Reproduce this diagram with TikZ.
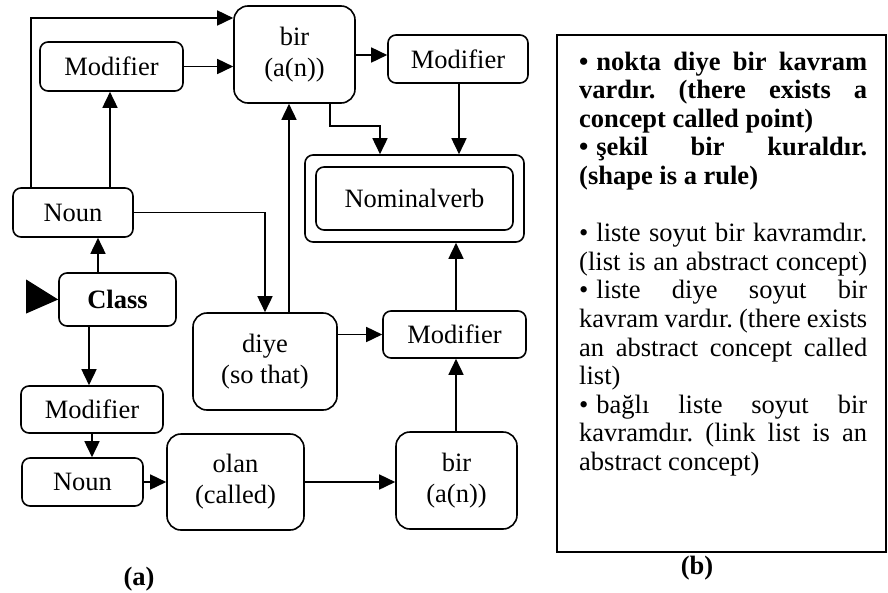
\documentclass[tikz,border=0pt]{standalone}
\usepackage{fontspec}
\setmainfont{Liberation Serif}
\usetikzlibrary{arrows.meta,calc}
\frenchspacing
\newcommand{\dfont}{\fontsize{26.5}{31}\selectfont}
\newcommand{\pfont}{\fontsize{26.5}{28.6}\selectfont}
\newcommand{\bul}{•\hspace{0.3em}}
\tikzset{
  box/.style={draw, line width=1.6pt, rounded corners=8pt, inner sep=0pt, font=\dfont, align=center},
  bigbox/.style={box, rounded corners=14pt},
  arr/.style={line width=1.6pt, -{Triangle[length=16pt,width=15pt]}},
  pline/.style={anchor=base west, inner sep=0pt, font=\pfont},
  lbl/.style={inner sep=0pt, font=\dfont\bfseries}
}
\begin{document}
\begin{tikzpicture}[x=1pt,y=-1pt]
\useasboundingbox (0,0) rectangle (888,592);
% helper coordinates
\coordinate (c31) at (31,0);
\coordinate (c18) at (0,18);
\coordinate (c110) at (110,0);
\coordinate (c55) at (0,55);
\coordinate (c330) at (330,0);
\coordinate (c380) at (380,0);
\coordinate (c459) at (459,0);
\coordinate (c289) at (289,0);
\coordinate (c98) at (98,0);
\coordinate (c89) at (89,0);
\coordinate (c92) at (92,0);
\coordinate (c456) at (456,0);
% nodes
\node[bigbox, minimum width=121, minimum height=97] (bir1) at (294.5,54.5) {bir\\(a(n))};
\node[box, minimum width=143, minimum height=49] (mod1) at (111.5,66.5) {Modifier};
\node[box, minimum width=140, minimum height=48] (mod2) at (458,59) {Modifier};
\node[box, minimum width=219, minimum height=87] (nomo) at (414.5,198.5) {};
\node[box, minimum width=197, minimum height=63] (nomi) at (414.5,198.5) {Nominalverb};
\node[box, minimum width=120, minimum height=49] (noun1) at (73,212.5) {Noun};
\node[box, minimum width=117, minimum height=53] (class) at (117.5,299.5) {\bfseries Class};
\node[bigbox, minimum width=144, minimum height=97] (diye) at (265,361.5) {diye\\(so that)};
\node[box, minimum width=143, minimum height=47] (mod3) at (454.5,334.5) {Modifier};
\node[box, minimum width=142, minimum height=47] (mod4) at (92,409.5) {Modifier};
\node[box, minimum width=121, minimum height=48] (noun2) at (82.5,482) {Noun};
\node[bigbox, minimum width=137, minimum height=96] (olan) at (235.5,482) {olan\\(called)};
\node[bigbox, minimum width=121, minimum height=97] (bir2) at (456.5,480.5) {bir\\(a(n))};
% start marker
\fill ($(class.west)+(-32,-20)$) -- (class.west) -- ($(class.west)+(-32,14)$) -- cycle;
% connectors
\draw[arr] (noun1.north -| c31) |- (bir1.west |- c18);
\draw[arr] (noun1.north -| c110) -- (mod1.south -| c110);
\draw[arr] (mod1.east) -- (bir1.west |- mod1.east);
\draw[arr] (bir1.east |- c55) -- (mod2.west |- c55);
\draw[arr] (bir1.south -| c330) -- ++(0,22) -| (nomo.north -| c380);
\draw[arr] (mod2.south -| c459) -- (nomo.north -| c459);
\draw[arr] (noun1.east) -| (diye.north);
\draw[arr] (diye.north -| c289) -- (bir1.south -| c289);
\draw[arr] (class.north -| c98) -- (noun1.south -| c98);
\draw[arr] (class.south -| c89) -- (mod4.north -| c89);
\draw[arr] (mod4.south -| c92) -- (noun2.north -| c92);
\draw[arr] (noun2.east) -- (olan.west);
\draw[arr] (olan.east) -- (bir2.west |- olan.east);
\draw[arr] (diye.east |- mod3.west) -- (mod3.west);
\draw[arr] (bir2.north -| c456) -- (mod3.south -| c456);
\draw[arr] (mod3.north -| c456) -- (nomo.south -| c456);
\node[lbl] (la) at (139,579) {(a)};
% right panel
\node[draw, line width=1.6pt, inner sep=0pt, minimum width=329, minimum height=517] (panel) at (721.5,293.5) {};
\node[pline] (t1) at (579,70) {\makebox[288pt][s]{\bfseries \bul nokta diye bir kavram}};
\node[pline] (t2) at (579,98.6) {\makebox[288pt][s]{\bfseries vardır. (there exists a}};
\node[pline] (t3) at (579,127.2) {\bfseries concept called point)};
\node[pline] (t4) at (579,155.8) {\makebox[288pt][s]{\bfseries \bul şekil bir kuraldır.}};
\node[pline] (t5) at (579,184.4) {\bfseries (shape is a rule)};
\node[pline] (t6) at (579,241.6) {\makebox[288pt][s]{\bul liste soyut bir kavramdır.}};
\node[pline] (t7) at (579,270.2) {\makebox[288pt][s]{(list is an abstract concept)}};
\node[pline] (t8) at (579,298.8) {\makebox[288pt][s]{\bul liste diye soyut bir}};
\node[pline] (t9) at (579,327.4) {\makebox[288pt][s]{kavram vardır. (there exists}};
\node[pline] (t10) at (579,356) {\makebox[288pt][s]{an abstract concept called}};
\node[pline] (t11) at (579,384.6) {list)};
\node[pline] (t12) at (579,413.2) {\makebox[288pt][s]{\bul bağlı liste soyut bir}};
\node[pline] (t13) at (579,441.8) {\makebox[288pt][s]{kavramdır. (link list is an}};
\node[pline] (t14) at (579,470.4) {abstract concept)};
\node[lbl] (lb) at (697,568) {(b)};
\end{tikzpicture}
\end{document}
